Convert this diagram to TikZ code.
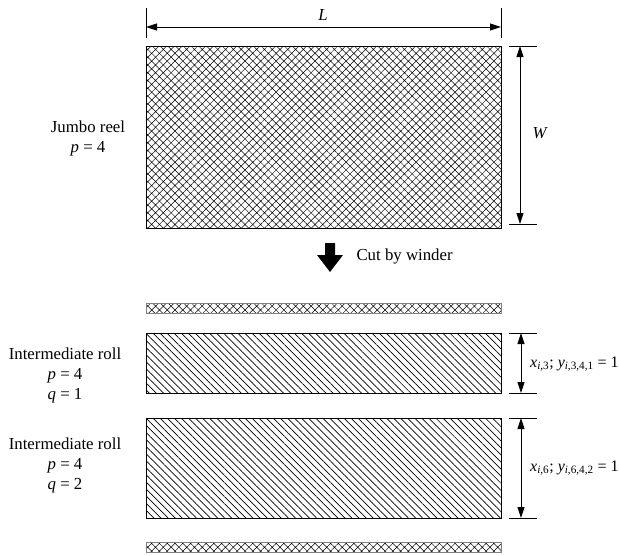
\documentclass[tikz,border=0pt]{standalone}
\usepackage{fontspec}
\setmainfont{Liberation Serif}
\usetikzlibrary{arrows.meta,patterns.meta}
\newcommand\iv[1]{\textit{#1}}
\begin{document}
\begin{tikzpicture}[x=1pt,y=-1pt,
  font=\fontsize{16.8}{20}\selectfont,
  dimline/.style={{Triangle[length=11pt,width=7pt]}-{Triangle[length=11pt,width=7pt]}, line width=0.9pt},
  tickline/.style={line width=0.9pt},
  reel/.style={draw, line width=0.9pt, pattern={Hatch[angle=45,distance=5.5pt,line width=0.5pt]}},
  trim/.style={draw=gray, line width=0.6pt, pattern={Hatch[angle=45,distance=5.5pt,line width=0.5pt]}},
  roll/.style={draw, line width=0.9pt, pattern={Lines[angle=-45,distance=5pt,line width=0.7pt]}},
  lbl/.style={align=center, inner sep=0pt},
  dimlbl/.style={anchor=west, inner sep=0pt, font=\fontsize{16}{20}\selectfont},
]
\useasboundingbox (0,0) rectangle (619,555);

% Jumbo reel
\draw[reel] (146,46) coordinate (jtl) rectangle (501,228) coordinate (jbr);
% L dimension
\coordinate (l1) at (146,27); \coordinate (l2) at (501,27);
\draw[tickline] (146,8) -- (146,38);
\draw[tickline] (501,8) -- (501,38);
\draw[dimline] (l1) -- (l2);
\node (L) at (323,15) {\iv{L}};
% W dimension
\coordinate (w1) at (520,46); \coordinate (w2) at (520,224);
\draw[tickline] (509,46) -- (537,46);
\draw[tickline] (509,224) -- (537,224);
\draw[dimline] (w1) -- (w2);
\node[anchor=west] (W) at (529,133) {\iv{W}};
\node[lbl] (jumbo) at (88,138) {Jumbo reel\\\iv{p} = 4};

% cut arrow
\fill (325,243) -- (335,243) -- (335,255) -- (343,255) -- (330,272) -- (317,255) -- (325,255) -- cycle;
\node[anchor=west] (cut) at (353,256) {Cut by winder};

% trim strip top
\draw[trim] (146,303) rectangle (501,313);

% roll 1
\draw[roll] (146,333) rectangle (501,393);
\coordinate (a1) at (521,333); \coordinate (a2) at (521,393);
\draw[tickline] (509,333) -- (537,333);
\draw[tickline] (509,393) -- (537,393);
\draw[dimline] (a1) -- (a2);
\node[dimlbl] (lab1) at (530,364) {\iv{x}\textsubscript{\iv{i},3}; \iv{y}\textsubscript{\iv{i},3,4,1} = 1};
\node[lbl] (r1) at (65,375) {Intermediate roll\\\iv{p} = 4\\\iv{q} = 1};

% roll 2
\draw[roll] (146,418) rectangle (501,518);
\coordinate (b1) at (521,418); \coordinate (b2) at (521,518);
\draw[tickline] (509,418) -- (537,418);
\draw[tickline] (509,518) -- (537,518);
\draw[dimline] (b1) -- (b2);
\node[dimlbl] (lab2) at (530,468) {\iv{x}\textsubscript{\iv{i},6}; \iv{y}\textsubscript{\iv{i},6,4,2} = 1};
\node[lbl] (r2) at (65,465) {Intermediate roll\\\iv{p} = 4\\\iv{q} = 2};

% trim strip bottom
\draw[trim] (146,542) rectangle (501,552);
\end{tikzpicture}
\end{document}
